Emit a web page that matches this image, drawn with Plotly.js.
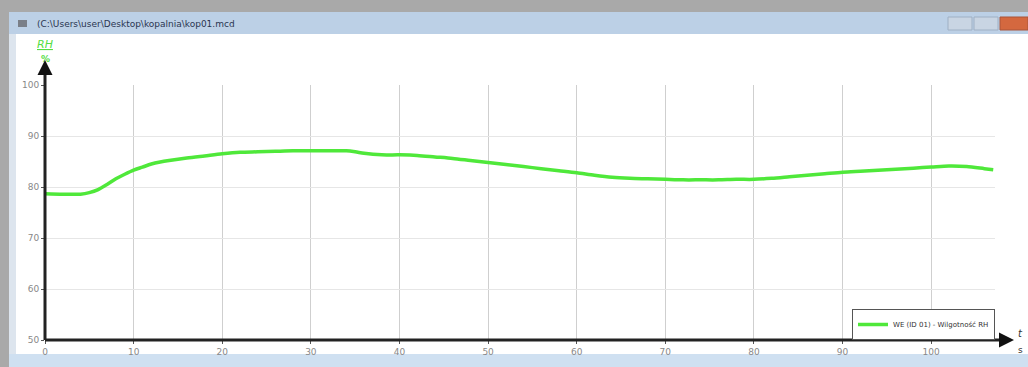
<!DOCTYPE html>
<html><head><meta charset="utf-8">
<script src="https://cdn.plot.ly/plotly-3.0.1.min.js"></script>
<style>html,body{margin:0;padding:0;background:#fff;}#chart{width:1028px;height:367px;}</style>
</head><body><div id="chart"></div>
<script>
const timeS = [0,2,4,5,6,7,8,9,10,11,12,13,14,16,18,20,22,24,26,28,30,32,34,35,36,38,40,42,44,46,48,50,52,54,56,58,60,62,64,66,68,70,72,74,76,78,80,82,84,86,88,90,92,94,96,98,100,102,104,106,107];
const humidityRH = [78.7,78.6,78.6,78.9,79.5,80.5,81.6,82.5,83.3,83.9,84.5,84.9,85.2,85.7,86.1,86.5,86.8,86.9,87.0,87.1,87.1,87.1,87.1,86.9,86.6,86.3,86.3,86.2,85.9,85.6,85.2,84.8,84.4,84.0,83.6,83.2,82.8,82.3,81.9,81.7,81.6,81.5,81.4,81.4,81.4,81.5,81.5,81.7,82.0,82.3,82.6,82.9,83.1,83.3,83.5,83.7,83.9,84.1,84.0,83.6,83.4];
const xTicks = [0,10,20,30,40,50,60,70,80,90,100];
const yTicks = [50,60,70,80,90,100];
const seriesName = "WE (ID 01) - Wilgotność RH";
const windowTitle = "(C:\\Users\\user\\Desktop\\kopalnia\\kop01.mcd";

// pixel helpers for chrome (plot area 45..995 x, 85..340 y)
const L=45, R=995, T=85, B=340;
const px = v => (v - L) / (R - L);
const py = v => (B - v) / (B - T);

const shapes = [
  {type:'rect',xref:'paper',yref:'paper',x0:px(0),x1:px(1028),y0:py(0),y1:py(12),fillcolor:'#a9a9a9',line:{width:0},layer:'below'},
  {type:'rect',xref:'paper',yref:'paper',x0:px(0),x1:px(9),y0:py(0),y1:py(367),fillcolor:'#a9a9a9',line:{width:0},layer:'below'},
  {type:'rect',xref:'paper',yref:'paper',x0:px(9),x1:px(16),y0:py(12),y1:py(367),fillcolor:'#dde5ee',line:{width:0},layer:'below'},
  {type:'rect',xref:'paper',yref:'paper',x0:px(9),x1:px(1028),y0:py(12),y1:py(34),fillcolor:'#bcd0e6',line:{width:0},layer:'below'},
  {type:'rect',xref:'paper',yref:'paper',x0:px(9),x1:px(1028),y0:py(354),y1:py(367),fillcolor:'#cfe0f1',line:{width:0},layer:'below'},
  {type:'rect',xref:'paper',yref:'paper',x0:px(948),x1:px(972),y0:py(17),y1:py(30),fillcolor:'#c9d5e3',line:{color:'#9fb0c4',width:1},layer:'below'},
  {type:'rect',xref:'paper',yref:'paper',x0:px(974),x1:px(998),y0:py(17),y1:py(30),fillcolor:'#c9d5e3',line:{color:'#9fb0c4',width:1},layer:'below'},
  {type:'rect',xref:'paper',yref:'paper',x0:px(1000),x1:px(1028),y0:py(17),y1:py(30),fillcolor:'#d4683f',line:{color:'#a9543a',width:1},layer:'below'},
  {type:'rect',xref:'paper',yref:'paper',x0:px(18),x1:px(27),y0:py(20),y1:py(27),fillcolor:'#7a7f88',line:{width:0},layer:'below'},
  {type:'line',xref:'paper',yref:'paper',x0:0,x1:px(1006),y0:0,y1:0,line:{color:'#222',width:3}},
  {type:'line',xref:'paper',yref:'paper',x0:0,x1:0,y0:0,y1:py(64),line:{color:'#222',width:3}}
];

const annotations = [
  {xref:'paper',yref:'paper',x:px(35),y:py(24),xanchor:'left',yanchor:'middle',text:windowTitle,showarrow:false,font:{family:'DejaVu Sans',size:9,color:'#2a3550'}},
  {xref:'paper',yref:'paper',x:px(45),y:py(45),xanchor:'center',yanchor:'middle',text:'<i><u>RH</u></i>',showarrow:false,font:{family:'DejaVu Sans',size:11,color:'#55dd44'}},
  {xref:'paper',yref:'paper',x:px(45),y:py(59),xanchor:'center',yanchor:'middle',text:'<b>%</b>',showarrow:false,font:{family:'DejaVu Sans',size:9,color:'#55dd44'}},
  {xref:'paper',yref:'paper',x:px(1021),y:py(333),xanchor:'center',yanchor:'middle',text:'<i>t</i>',showarrow:false,font:{family:'DejaVu Sans',size:10,color:'#333'}},
  {xref:'paper',yref:'paper',x:px(1021),y:py(350),xanchor:'center',yanchor:'middle',text:'s',showarrow:false,font:{family:'DejaVu Sans',size:9,color:'#333'}},
  {xref:'paper',yref:'paper',x:px(1014),y:0,ax:-14,ay:0,text:'',showarrow:true,arrowhead:2,arrowsize:1,arrowwidth:3,arrowcolor:'#111'},
  {xref:'paper',yref:'paper',x:0,y:py(60),ax:0,ay:14,text:'',showarrow:true,arrowhead:2,arrowsize:1,arrowwidth:3,arrowcolor:'#111'}
];

const trace = {x:timeS,y:humidityRH,type:'scatter',mode:'lines',name:seriesName,
  line:{color:'#4fe83a',width:3.5,shape:'spline',smoothing:0.8}};

const layout = {
  width:1028,height:367,
  margin:{l:L,r:1028-R,t:T,b:367-B,pad:0},
  paper_bgcolor:'#ffffff',plot_bgcolor:'#ffffff',
  showlegend:true,
  legend:{x:1,y:0,xanchor:'right',yanchor:'bottom',bgcolor:'#ffffff',bordercolor:'#555',borderwidth:1,
    font:{family:'DejaVu Sans',size:7,color:'#333'},itemwidth:30,tracegroupgap:0},
  xaxis:{range:[0,107.2],tickvals:xTicks,ticktext:xTicks.map(String),showgrid:true,gridcolor:'#cfcfcf',gridwidth:1,
    zeroline:false,showline:false,ticks:'outside',ticklen:3,tickcolor:'#555',
    tickfont:{family:'DejaVu Sans',size:9,color:'#888'}},
  yaxis:{range:[50,100],tickvals:yTicks,ticktext:yTicks.map(String),showgrid:true,gridcolor:'#e6e6e6',gridwidth:1,
    zeroline:false,showline:false,ticks:'outside',ticklen:3,tickcolor:'#555',
    tickfont:{family:'DejaVu Sans',size:9,color:'#888'}},
  shapes:shapes,annotations:annotations
};
Plotly.newPlot('chart',[trace],layout,{staticPlot:true,displayModeBar:false});
</script></body></html>
